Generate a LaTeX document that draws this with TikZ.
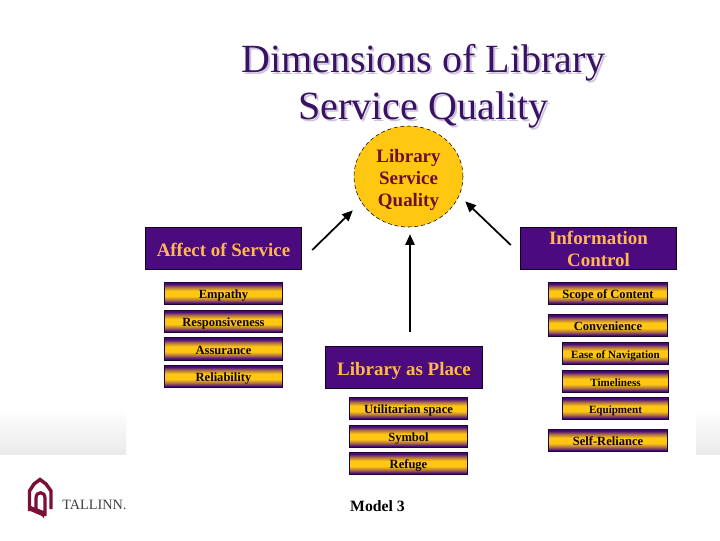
\documentclass[tikz,border=0pt]{standalone}
\usepackage{fontspec}
\setmainfont{Liberation Serif}
\usetikzlibrary{arrows.meta,shapes.geometric}
\definecolor{deepp}{HTML}{4B0B7F}
\definecolor{titlep}{HTML}{3A1263}
\definecolor{shadowp}{HTML}{CFC3DE}
\definecolor{gold}{HTML}{FFC612}
\definecolor{peach}{HTML}{FFB84D}
\definecolor{maroon}{HTML}{6A1030}
\definecolor{logored}{HTML}{7C0F36}
\pgfdeclareverticalshading{barshade}{100bp}{
  color(0bp)=(deepp!85!black); color(25bp)=(deepp!85!black); color(29bp)=(deepp); color(36bp)=(gold!55!deepp); color(44bp)=(gold); color(56bp)=(gold);
  color(64bp)=(gold!55!deepp); color(71bp)=(deepp); color(75bp)=(deepp!85!black); color(100bp)=(deepp!85!black)}
\tikzset{
  head/.style={draw=black!80!deepp,line width=.6pt,fill=deepp,text=peach,inner sep=0pt,align=center,
    font=\fontsize{14.2}{16.5}\selectfont\bfseries,minimum width=117.5pt,minimum height=31.5pt},
  subbar/.style={draw=deepp!40!black,line width=.7pt,shading=barshade,inner sep=0pt,
    text=black!85!deepp,font=\fontsize{9.4}{11}\selectfont\bfseries,minimum height=17pt,minimum width=#1,
    text height=9.5pt,text depth=1.6pt},
  subbar/.default=89pt,
  narrowtext/.style={font=\fontsize{8.3}{10}\selectfont\bfseries},
  oneline/.style={text height=14pt,text depth=2pt},
  arr/.style={line width=1.3pt,black,-{Triangle[length=8pt,width=7pt]}},
  titletext/.style={font=\fontsize{30}{35.5}\selectfont,align=center,inner sep=0pt}
}
\begin{document}
\begin{tikzpicture}[x=0.75pt,y=-0.75pt]
\useasboundingbox (0,0) rectangle (720,540);
% background band
\fill[white] (0,0) rectangle (720,540);
\shade[top color=white,bottom color=black!8] (0,408) rectangle (126,454);
\shade[top color=white,bottom color=black!8] (696,408) rectangle (720,454);
% title
\node[titletext,text=shadowp] (titleshadow) at (425.5,88.5) {Dimensions of Library\\Service Quality};
\node[titletext,text=titlep] (title) at (423.5,86.5) {Dimensions of Library\\Service Quality};
% core
\node[ellipse,draw=black,densely dashed,line width=.4pt,fill=gold,minimum width=81.75pt,minimum height=75.75pt,inner sep=0pt,
  align=center,text=maroon,font=\fontsize{14.2}{16.5}\selectfont\bfseries] (lsq) at (408.5,176.5) {\rule{0pt}{15pt}Library\\Service\\Quality};
% headers
\node[head,oneline] (affect) at (223.5,248) {Affect of Service};
\node[head] (info) at (598.5,248) {\rule{0pt}{11.5pt}Information\\Control};
\node[head,oneline] (place) at (404,367) {Library as Place};
% left column
\node[subbar] (s1) at (223.5,293.5) {Empathy};
\node[subbar] (s2) at (223.5,321.5) {Responsiveness};
\node[subbar] (s3) at (223.5,349) {Assurance};
\node[subbar] (s4) at (223.5,376.5) {Reliability};
% right column
\node[subbar] (r1) at (608,293.5) {Scope of Content};
\node[subbar] (r2) at (608,325.5) {Convenience};
\node[subbar=79pt,narrowtext] (r3) at (615.5,353.5) {Ease of Navigation};
\node[subbar=79pt,narrowtext] (r4) at (615.5,381.5) {Timeliness};
\node[subbar=79pt,narrowtext] (r5) at (615.5,408.5) {Equipment};
\node[subbar] (r6) at (608,440.5) {Self-Reliance};
% center column
\node[subbar] (c1) at (408.5,408.5) {Utilitarian space};
\node[subbar] (c2) at (408.5,436.5) {Symbol};
\node[subbar] (c3) at (408.5,463.5) {Refuge};
\node[font=\fontsize{11.8}{13}\selectfont\bfseries,text=black,inner sep=0pt] (model) at (377.5,506.5) {Model 3};
% arrows
\draw[arr] ([shift={(10,2)}]affect.east) -- ([shift={(-17,-2)}]lsq.south west);
\draw[arr] ([shift={(-9,-3)}]info.west) -- ([shift={(18,-11)}]lsq.south east);
\draw[arr] ([shift={(6,-14)}]place.north) -- ([shift={(1.5,7)}]lsq.south);
% logo
\draw[logored,line width=2.6pt,line join=miter] (29.5,511) -- (29.5,491) -- (34,484) -- (40,479.5) -- (46,484) -- (51,491) -- (51,509);
\fill[logored] (28,510) -- (42,516) -- (44,518.5) -- (44,511) -- (28,505) -- cycle;
\draw[logored,line width=2.4pt] (36,512) -- (36,498) .. controls (36,491) and (45,491) .. (45,498) -- (45,516);
\node[anchor=west,inner sep=0pt,text=black!75,font=\fontsize{10.7}{13}\selectfont] (tallinn) at (62,505) {TALLINN.};
\end{tikzpicture}
\end{document}
